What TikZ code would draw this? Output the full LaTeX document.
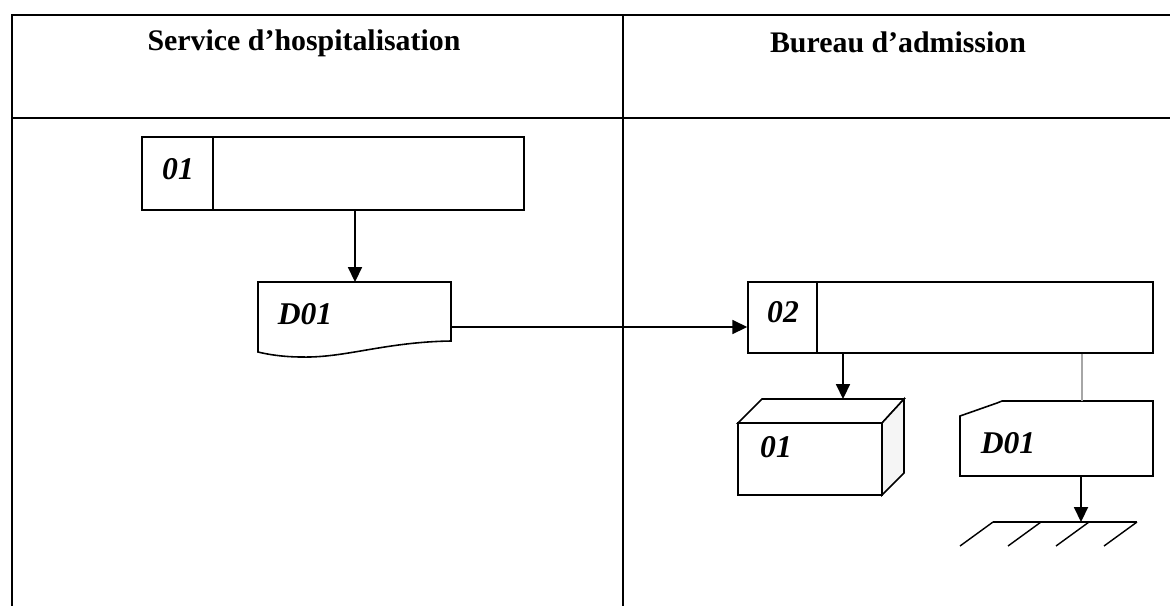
\documentclass[tikz,border=0pt]{standalone}
\usepackage{fontspec}
\setmainfont{Liberation Serif}
\usetikzlibrary{arrows.meta,calc}
\tikzset{
  frame/.style={line width=1pt},
  shp/.style={draw, line width=0.9pt},
  procbox/.style={draw, line width=0.9pt, rectangle, inner sep=0pt},
  lbl/.style={font=\fontsize{18}{20}\selectfont\bfseries\itshape, inner sep=0pt},
  ttl/.style={font=\fontsize{17}{19}\selectfont\bfseries, inner sep=0pt},
  flow/.style={line width=0.9pt, -{Triangle[length=8.5pt,width=8pt]}},
}
\begin{document}
\begin{tikzpicture}[x=0.02cm, y=-0.02cm]
\useasboundingbox[fill=white] (0,0) rectangle (1170,606);
% frame
\draw[frame] (1170,15) -- (12,15) -- (12,606);
\draw[frame] (12,118) -- (1170,118);
\draw[frame] (623,15) -- (623,606);
\node[ttl] (t1) at (304,43) {Service d’hospitalisation};
\node[ttl] (t2) at (898,42) {Bureau d’admission};
% box 01
\node[procbox, minimum width=7.64cm, minimum height=1.46cm] (b1) at (333,173.5) {};
\draw[line width=0.9pt] ($(b1.north west)+(72,0)$) -- ($(b1.south west)+(72,0)$);
\node[lbl] (l1) at (178,169) {01};
% document D01 (left)
\coordinate (d1top) at (355,282);
\coordinate (d1r) at (451,327);
\draw[shp] (258,282) -- (451,282) -- (451,341)
  .. controls (385,342) and (345,358) .. (302,357)
  .. controls (282,357) and (266,354) .. (258,352) -- cycle;
\node[lbl] (l2) at (305,314) {D01};
\draw[flow] (b1.south -| d1top) -- (d1top);
% box 02
\node[procbox, minimum width=8.1cm, minimum height=1.42cm] (b2) at (950.5,317.5) {};
\draw[line width=0.9pt] ($(b2.north west)+(70,0)$) -- ($(b2.south west)+(70,0)$);
\node[lbl] (l3) at (783,312) {02};
\draw[flow] (d1r) -- (d1r -| b2.west);
% cube 01
\coordinate (cubetop) at (843,399);
\draw[shp] (738,423) rectangle (882,495);
\draw[shp, fill=white] (738,423) -- (762,399) -- (904,399) -- (882,423) -- cycle;
\draw[shp, fill=black!4] (882,423) -- (904,399) -- (904,473) -- (882,495) -- cycle;
\node[lbl] (l4) at (776,447) {01};
\draw[flow] (b2.south -| cubetop) -- (cubetop);
% card D01 (right)
\coordinate (c2top) at (1082,401);
\coordinate (c2bot) at (1081,476);
\draw[shp] (960,416) -- (997,403) -- (1002,401) -- (1153,401) -- (1153,476) -- (960,476) -- cycle;
\node[lbl] (l5) at (1008,443) {D01};
\draw[gray!70, line width=0.7pt] (b2.south -| c2top) -- (c2top);
% ground
\coordinate (g) at (1081,522);
\draw[flow] (c2bot) -- (g);
\draw[line width=0.9pt] (993,522) -- (1137,522);
\foreach \gx in {993,1041,1089,1137}
  \draw[line width=0.8pt] (\gx,522) -- ++(-33,24);
\end{tikzpicture}
\end{document}
